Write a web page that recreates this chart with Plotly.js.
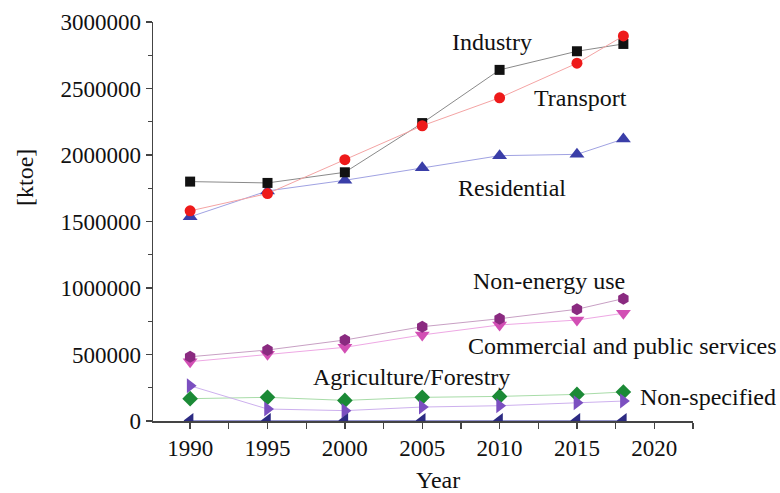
<!DOCTYPE html>
<html>
<head>
<meta charset="utf-8">
<script src="https://cdn.plot.ly/plotly-3.0.1.min.js"></script>
<style>html,body{margin:0;padding:0;background:#fff;}#chart{width:780px;height:493px;}</style>
</head>
<body>
<div id="chart"></div>
<script>
const years = [1990, 1995, 2000, 2005, 2010, 2015, 2018];
const industry = [1800000, 1790000, 1870000, 2240000, 2640000, 2780000, 2835000];
const transport = [1580000, 1710000, 1965000, 2220000, 2430000, 2690000, 2895000];
const residential = [1535000, 1730000, 1810000, 1905000, 1995000, 2005000, 2120000];
const nonEnergyUse = [483000, 534000, 609000, 709000, 769000, 840000, 920000];
const commercial = [446000, 501000, 554000, 647000, 722000, 759000, 810000];
const agriculture = [168000, 178000, 155000, 178000, 185000, 200000, 218000];
const nonSpecified = [265000, 90000, 78000, 105000, 115000, 138000, 150000];
const other = [3000, 3000, 3000, 3000, 3000, 3000, 3000];

const seriesNames = ["Industry", "Transport", "Residential", "Non-energy use",
  "Commercial and public services", "Agriculture/Forestry", "Non-specified", "Other"];

function tr(name, y, symbol, mcolor, lcolor, size) {
  return {
    x: years, y: y, name: name, type: 'scatter', mode: 'lines+markers',
    line: {color: lcolor, width: 1},
    marker: {symbol: symbol, color: mcolor, size: size, line: {width: 0}},
    showlegend: false
  };
}

const data = [
  tr(seriesNames[5], agriculture, 'diamond', '#1b8a36', '#a8dca8', 12),
  tr(seriesNames[6], nonSpecified, 'triangle-right', '#7b4fc0', '#cdb0ee', 13),
  tr(seriesNames[7], other, 'triangle-left', '#2c2a82', '#8888c8', 13),
  tr(seriesNames[4], commercial, 'triangle-down', '#d24fb4', '#eea8e4', 13),
  tr(seriesNames[3], nonEnergyUse, 'hexagon', '#8a2a80', '#c8a0c4', 12),
  tr(seriesNames[2], residential, 'triangle-up', '#3a3ea8', '#a0a2e2', 13),
  tr(seriesNames[0], industry, 'square', '#111111', '#8a8a8a', 10),
  tr(seriesNames[1], transport, 'circle', '#ee1a1a', '#f4a4a4', 11)
];

const fam = '"Liberation Serif", "Times New Roman", serif';
const font = {family: fam, color: '#111', size: 23};
const lab = (text, x, y) => ({text: text, xref: 'paper', yref: 'paper', x: x, y: y,
  xanchor: 'center', yanchor: 'middle', showarrow: false, font: {family: fam, size: 24, color: '#111'}});

const L = 153, R = 693, T = 22, B = 421;
const px = v => (v - L) / (R - L);
const py = v => (B - v) / (B - T);

const layout = {
  width: 780, height: 493,
  margin: {l: L, r: 780 - R, t: T, b: 493 - B},
  paper_bgcolor: '#fff', plot_bgcolor: '#fff',
  font: font,
  xaxis: {
    range: [1987.6, 2022.5], tick0: 1990, dtick: 5,
    ticks: 'outside', ticklen: 6, tickwidth: 1.3, tickcolor: '#444',
    showline: true, linecolor: '#444', linewidth: 1.5,
    showgrid: false, zeroline: false,
    minor: {dtick: 2.5, tick0: 1990, ticks: 'outside', ticklen: 6, tickcolor: '#444', showgrid: false},
    tickfont: {family: fam, size: 23, color: '#111'}
  },
  yaxis: {
    range: [0, 3000000], tick0: 0, dtick: 500000,
    ticks: 'outside', ticklen: 6, tickwidth: 1.3, tickcolor: '#444',
    showline: true, linecolor: '#444', linewidth: 1.5,
    showgrid: false, zeroline: false,
    tickformat: 'd',
    minor: {dtick: 250000, ticks: 'outside', ticklen: 4, tickcolor: '#444', showgrid: false},
    tickfont: {family: fam, size: 23, color: '#111'}
  },
  annotations: [
    lab('Industry', px(492), py(42)),
    lab('Transport', px(580), py(98)),
    lab('Residential', px(512), py(188)),
    lab('Non-energy use', px(549), py(281)),
    lab('Commercial and public services', px(622), py(346)),
    lab('Agriculture/Forestry', px(411), py(377)),
    lab('Non-specified', px(708), py(397)),
    lab('Year', px(438), py(480)),
    Object.assign(lab('[ktoe]', px(25), py(178)), {textangle: -90})
  ]
};

Plotly.newPlot('chart', data, layout, {displayModeBar: false, staticPlot: true});
</script>
</body>
</html>
